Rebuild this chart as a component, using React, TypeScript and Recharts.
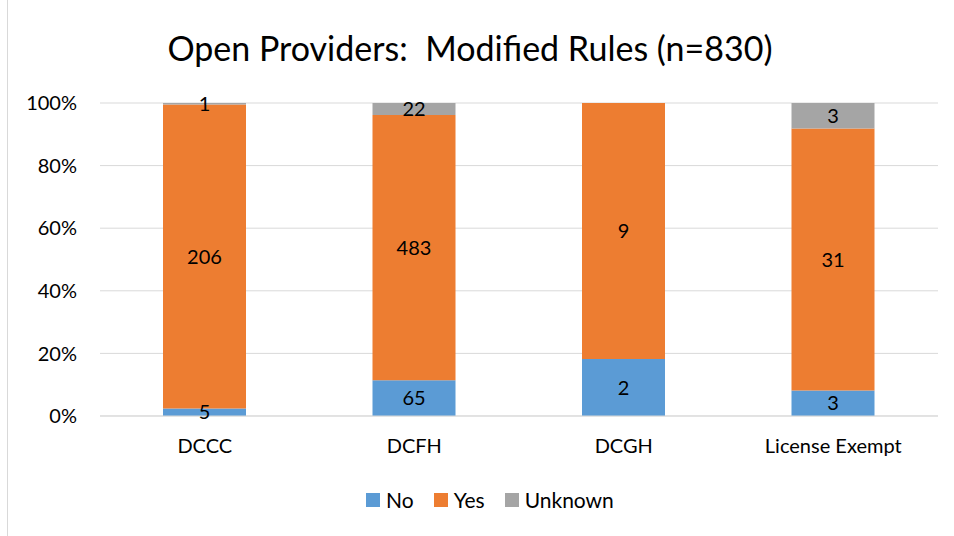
import { BarChart, Bar, XAxis, YAxis, CartesianGrid, LabelList } from "recharts";

const categories = ["DCCC", "DCFH", "DCGH", "License Exempt"];
const noCounts = [5, 65, 2, 3];
const yesCounts = [206, 483, 9, 31];
const unknownCounts = [1, 22, 0, 3];
const yTicks = [0, 0.2, 0.4, 0.6, 0.8, 1];

const data = categories.map((name, i) => ({
  name,
  no: noCounts[i],
  yes: yesCounts[i],
  unknown: unknownCounts[i],
}));

const font = "Lato, 'Open Sans', sans-serif";
const series = [
  { key: "no", label: "No", color: "#5B9BD5" },
  { key: "yes", label: "Yes", color: "#ED7D31" },
  { key: "unknown", label: "Unknown", color: "#A5A5A5" },
];

const hideZero = (v: any) => (v ? v : "");

function LegendBox() {
  return (
    <div
      style={{
        position: "absolute",
        left: 366,
        top: 487,
        display: "flex",
        gap: 20,
        fontFamily: font,
        fontSize: 21,
        color: "#000",
      }}
    >
      {series.map((s) => (
        <div key={s.key} style={{ display: "flex", alignItems: "center", gap: 6 }}>
          <span style={{ width: 14, height: 14, background: s.color, display: "inline-block" }} />
          <span>{s.label}</span>
        </div>
      ))}
    </div>
  );
}

export default function App() {
  return (
    <div style={{ position: "absolute", left: 0, top: 0, width: 954, height: 536, background: "#fff" }}>
      <div style={{ position: "absolute", left: 7, top: 0, width: 946, height: 536, borderLeft: "1px solid #d9d9d9" }} />
      <div
        style={{
          position: "absolute",
          left: 0,
          width: 940,
          top: 27,
          textAlign: "center",
          fontFamily: font,
          fontSize: 34,
          color: "#000",
        }}
      >
        Open Providers:&nbsp; Modified Rules (n=830)
      </div>
      <div style={{ position: "absolute", left: 0, top: 0 }}>
        <BarChart
          width={954}
          height={536}
          data={data}
          stackOffset="expand"
          margin={{ top: 103, right: 16, bottom: 90, left: 8 }}
        >
          <CartesianGrid vertical={false} stroke="#d9d9d9" />
          <XAxis
            dataKey="name"
            axisLine={{ stroke: "#d9d9d9" }}
            tickLine={false}
            tick={{ fill: "#000", fontSize: 20, fontFamily: font }}
            tickMargin={17}
          />
          <YAxis
            width={92}
            ticks={yTicks}
            domain={[0, 1]}
            tickFormatter={(v) => `${Math.round(v * 100)}%`}
            axisLine={false}
            tickLine={false}
            tick={{ fill: "#000", fontSize: 20, fontFamily: font }}
            tickMargin={17}
          />
          {series.map((s) => (
            <Bar key={s.key} dataKey={s.key} stackId="a" fill={s.color} barSize={83} isAnimationActive={false}>
              <LabelList
                dataKey={s.key}
                position="center"
                formatter={hideZero}
                fill="#000"
                style={{ fontSize: 20, fontFamily: font }}
              />
            </Bar>
          ))}
        </BarChart>
      </div>
      <LegendBox />
    </div>
  );
}
